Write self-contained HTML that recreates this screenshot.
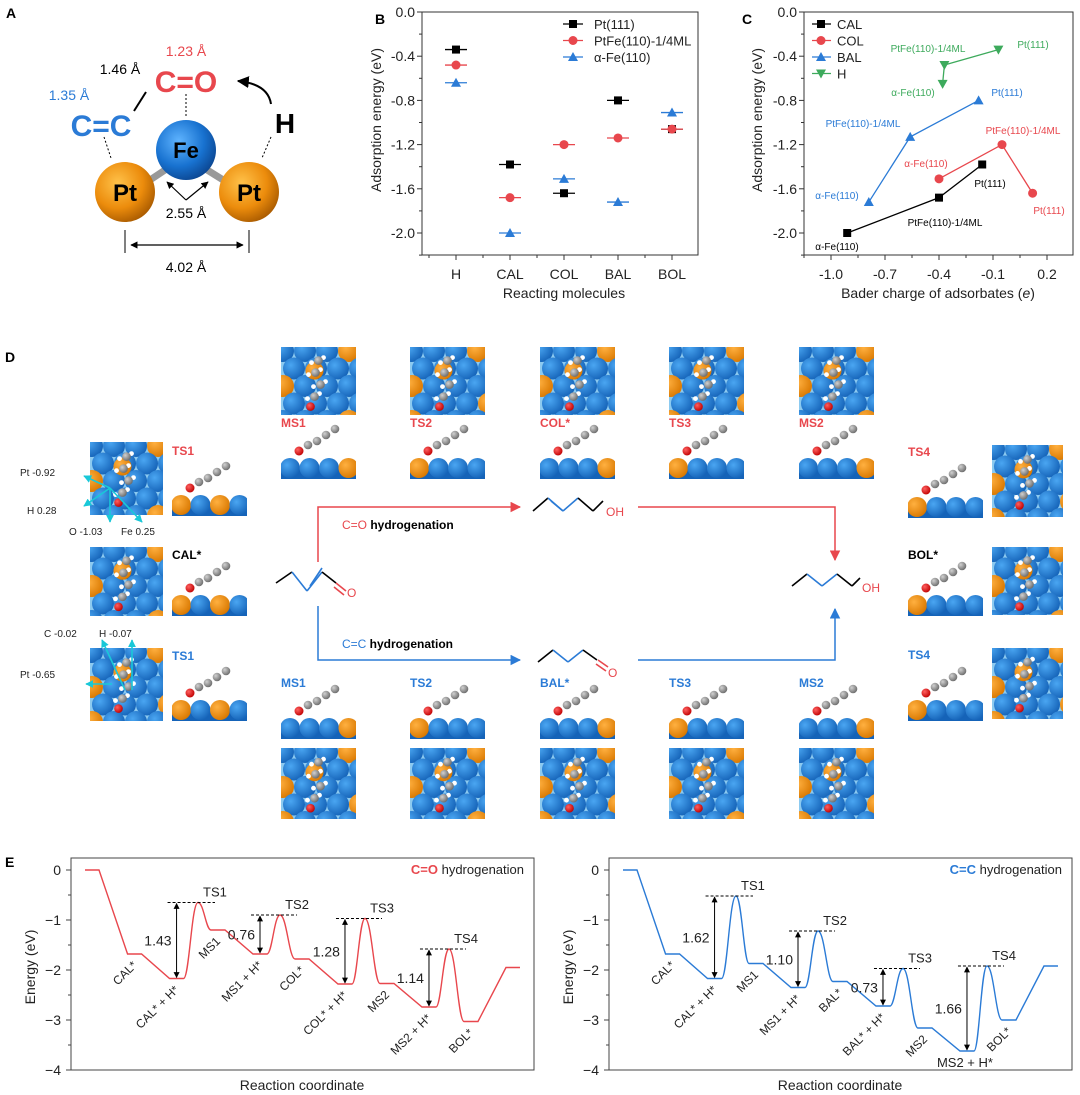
<!DOCTYPE html>
<html><head><meta charset="utf-8"><style>
html,body{margin:0;padding:0;background:#fff;}
svg{display:block;font-family:"Liberation Sans",Arial,sans-serif;}
</style></head><body>
<svg id="fig" xmlns="http://www.w3.org/2000/svg" width="1080" height="1095" viewBox="0 0 1080 1095">
<defs>
<radialGradient id="gPt" cx="0.38" cy="0.35" r="0.7"><stop offset="0" stop-color="#ffc24a"/><stop offset="0.6" stop-color="#ec8c0c"/><stop offset="1" stop-color="#a85a00"/></radialGradient>
<radialGradient id="gFe" cx="0.38" cy="0.35" r="0.7"><stop offset="0" stop-color="#5fb4ff"/><stop offset="0.6" stop-color="#1872d0"/><stop offset="1" stop-color="#0b4590"/></radialGradient>
<radialGradient id="gB" cx="0.35" cy="0.35" r="0.7"><stop offset="0" stop-color="#4aa6f2"/><stop offset="1" stop-color="#1563b8"/></radialGradient>
<radialGradient id="gO" cx="0.35" cy="0.35" r="0.7"><stop offset="0" stop-color="#ffb040"/><stop offset="1" stop-color="#d97800"/></radialGradient>
<radialGradient id="gC" cx="0.35" cy="0.35" r="0.7"><stop offset="0" stop-color="#d0d0d0"/><stop offset="1" stop-color="#6a6a6a"/></radialGradient>
<radialGradient id="gR" cx="0.35" cy="0.35" r="0.7"><stop offset="0" stop-color="#ff6060"/><stop offset="1" stop-color="#c00000"/></radialGradient>
<marker id="ah" viewBox="0 0 10 10" refX="9" refY="5" markerWidth="6" markerHeight="6" orient="auto-start-reverse"><path d="M0,0 L10,5 L0,10 z" fill="#000"/></marker>
<marker id="ahR" viewBox="0 0 10 10" refX="9" refY="5" markerWidth="7" markerHeight="7" orient="auto"><path d="M0,0 L10,5 L0,10 z" fill="#e8474d"/></marker>
<marker id="ahB" viewBox="0 0 10 10" refX="9" refY="5" markerWidth="7" markerHeight="7" orient="auto"><path d="M0,0 L10,5 L0,10 z" fill="#2b7bd6"/></marker>
<marker id="ahC" viewBox="0 0 10 10" refX="9" refY="5" markerWidth="5" markerHeight="5" orient="auto"><path d="M0,0 L10,5 L0,10 z" fill="#19c8d8"/></marker>
</defs>

<!-- Panel A -->
<g>
<text x="6" y="18" font-size="14" font-weight="bold">A</text>
<line x1="168" y1="168" x2="138" y2="188" stroke="#999" stroke-width="7"/>
<line x1="204" y1="168" x2="236" y2="188" stroke="#999" stroke-width="7"/>
<circle cx="125" cy="192" r="30" fill="url(#gPt)"/>
<circle cx="249" cy="192" r="30" fill="url(#gPt)"/>
<circle cx="186" cy="150" r="30" fill="url(#gFe)"/>
<text x="125" y="201" font-size="24" font-weight="bold" text-anchor="middle">Pt</text>
<text x="249" y="201" font-size="24" font-weight="bold" text-anchor="middle">Pt</text>
<text x="186" y="158" font-size="22" font-weight="bold" text-anchor="middle">Fe</text>
<text x="186" y="56" font-size="14" fill="#e8474d" text-anchor="middle">1.23 Å</text>
<text x="120" y="74" font-size="14" text-anchor="middle">1.46 Å</text>
<text x="69" y="100" font-size="14" fill="#2b7bd6" text-anchor="middle">1.35 Å</text>
<text x="186" y="92" font-size="30" font-weight="bold" fill="#e8474d" text-anchor="middle">C=O</text>
<text x="101" y="136" font-size="30" font-weight="bold" fill="#2b7bd6" text-anchor="middle">C=C</text>
<text x="285" y="133" font-size="28" font-weight="bold" text-anchor="middle">H</text>
<line x1="146" y1="92" x2="134" y2="111" stroke="#000" stroke-width="2"/>
<line x1="104" y1="137" x2="111" y2="158" stroke="#000" stroke-dasharray="2,2"/>
<line x1="186" y1="94" x2="186" y2="117" stroke="#000" stroke-dasharray="2,2"/>
<line x1="271" y1="137" x2="262" y2="158" stroke="#000" stroke-dasharray="2,2"/>
<path d="M271,104 Q268,84 238,81" fill="none" stroke="#000" stroke-width="2" marker-end="url(#ah)"/>
<line x1="186" y1="200" x2="167" y2="182" stroke="#000" stroke-width="1.2" marker-end="url(#ah)"/>
<line x1="186" y1="200" x2="208" y2="182" stroke="#000" stroke-width="1.2" marker-end="url(#ah)"/>
<text x="186" y="218" font-size="14" text-anchor="middle">2.55 Å</text>
<line x1="125" y1="230" x2="125" y2="253" stroke="#000"/>
<line x1="249" y1="230" x2="249" y2="253" stroke="#000"/>
<line x1="131" y1="245" x2="243" y2="245" stroke="#000" stroke-width="1.2" marker-start="url(#ah)" marker-end="url(#ah)"/>
<text x="186" y="272" font-size="14" text-anchor="middle">4.02 Å</text>
</g>

<g id="panelB"></g>
<g id="panelC"></g>
<g id="panelD"></g>
<g id="panelE"></g>
</svg>
<script>
const NS='http://www.w3.org/2000/svg';
function mk(parent,tag,attrs,text){const e=document.createElementNS(NS,tag);for(const k in attrs)e.setAttribute(k,attrs[k]);if(text!==undefined)e.textContent=text;parent.appendChild(e);return e;}
const RED='#e8474d',BLUE='#2b7bd6',GREEN='#3daa5c';

// ---------- Panel B data ----------
const bCategories=['H','CAL','COL','BAL','BOL'];
const bPt111=[-0.34,-1.38,-1.64,-0.80,-1.06];
const bPtFe=[-0.48,-1.68,-1.20,-1.14,-1.06];
const bFe110=[-0.64,-2.00,-1.51,-1.72,-0.91];
const bSeriesNames=['Pt(111)','PtFe(110)-1/4ML','α-Fe(110)'];
const bYTicks=[0,-0.4,-0.8,-1.2,-1.6,-2.0];
const bYTickLabels=['0.0','-0.4','-0.8','-1.2','-1.6','-2.0'];

// ---------- Panel C data ----------
const cCAL_x=[-0.91,-0.40,-0.16], cCAL_y=[-2.00,-1.68,-1.38];
const cCOL_x=[-0.40,-0.05,0.12], cCOL_y=[-1.51,-1.20,-1.64];
const cBAL_x=[-0.79,-0.56,-0.18], cBAL_y=[-1.72,-1.13,-0.80];
const cH_x=[-0.38,-0.37,-0.07], cH_y=[-0.65,-0.48,-0.34];
const cXTicks=[-1.0,-0.7,-0.4,-0.1,0.2];
const cXTickLabels=['-1.0','-0.7','-0.4','-0.1','0.2'];
const cSeriesNames=['CAL','COL','BAL','H'];

// ---------- Panel E data ----------
const eStateNames=['','CAL*','CAL* + H*','TS1','MS1','MS1 + H*','TS2','COL*','COL* + H*','TS3','MS2','MS2 + H*','TS4','BOL*',''];
const eStateNamesCC=['','CAL*','CAL* + H*','TS1','MS1','MS1 + H*','TS2','BAL*','BAL* + H*','TS3','MS2','MS2 + H*','TS4','BOL*',''];
const eStateTypes=['p','p','p','t','p','p','t','p','p','t','p','p','t','p','p'];
const eStatePos=[1.5,4.54,7.54,9.07,10.5,13.5,14.93,16.5,19.57,21,22.57,25.57,27,28.57,31.57];
const eEnergyCO=[0,-1.68,-2.17,-0.65,-1.20,-1.68,-0.90,-1.78,-2.28,-0.97,-2.27,-2.74,-1.58,-3.03,-1.95];
const eEnergyCC=[0,-1.68,-2.17,-0.52,-1.87,-2.35,-1.22,-2.23,-2.72,-1.97,-3.16,-3.62,-1.92,-3.00,-1.92];
const eBarrierCO=['1.43','0.76','1.28','1.14'];
const eBarrierCC=['1.62','1.10','0.73','1.66'];
const eYTicks=[0,-1,-2,-3,-4];

function marker(g,type,cx,cy,color,name){
  let m;
  if(type==='s') m=mk(g,'rect',{x:cx-4,y:cy-4,width:8,height:8,fill:color});
  else if(type==='c') m=mk(g,'circle',{cx:cx,cy:cy,r:4.5,fill:color});
  else if(type==='t') m=mk(g,'path',{d:`M${cx},${cy-5} L${cx+5},${cy+4} L${cx-5},${cy+4}Z`,fill:color});
  else m=mk(g,'path',{d:`M${cx},${cy+5} L${cx+5},${cy-4} L${cx-5},${cy-4}Z`,fill:color});
  
  
  return m;
}

// ===== Panel B =====
(function(){
  const g=document.getElementById('panelB');
  const L=422,R=698,T=12,B=255;
  const xS=i=>456+i*54;
  const yS=v=>T+(-v)*110.5;
  const lab=mk(g,'text',{x:375,y:24,'font-size':14,'font-weight':'bold'},'B');
  
  const box=mk(g,'rect',{x:L,y:T,width:R-L,height:B-T,fill:'none',stroke:'#333','stroke-width':1});
  
  for(let v=0;v>=-2.21;v-=0.2){
    const y=yS(v);const major=Math.abs(Math.round(v*10))%4===0;
    const t=mk(g,'line',{x1:L,x2:L-(major?5:3),y1:y,y2:y,stroke:'#333'});
    
  }
  bYTicks.forEach((v,i)=>{const t=mk(g,'text',{x:L-7,y:yS(v)+5,'font-size':14,'text-anchor':'end',fill:'#222'},bYTickLabels[i]);
    });
  for(let k=0;k<=10;k++){const x=xS(-0.5+k*0.5);if(x<L||x>R)continue;const major=k%2===1;
    const t=mk(g,'line',{x1:x,x2:x,y1:B,y2:B+(major?5:3),stroke:'#333'});
    }
  bCategories.forEach((c,i)=>{const t=mk(g,'text',{x:xS(i),y:279,'font-size':14,'text-anchor':'middle',fill:'#222'},c);
    });
  const xt=mk(g,'text',{x:564,y:298,'font-size':14,'text-anchor':'middle',fill:'#222'},'Reacting molecules');
  
  const yt=mk(g,'text',{x:0,y:0,'font-size':14,'text-anchor':'middle',fill:'#222',transform:'translate(381,120) rotate(-90)'},'Adsorption energy (eV)');
  
  const series=[[bPt111,'#000','s'],[bPtFe,RED,'c'],[bFe110,BLUE,'t']];
  series.forEach((s,si)=>{
    s[0].forEach((v,i)=>{const x=xS(i),y=yS(v);
      const l=mk(g,'line',{x1:x-11,x2:x+11,y1:y,y2:y,stroke:s[1],'stroke-width':1.3});
      
      marker(g,s[2],x,y,s[1],'marker-'+bCategories[i].toLowerCase());});
    const ly=24+si*16.5;
    const ll=mk(g,'line',{x1:563,x2:583,y1:ly,y2:ly,stroke:s[1],'stroke-width':1.3});
    
    marker(g,s[2],573,ly,s[1],'legend-marker');
    const lt=mk(g,'text',{x:594,y:ly+5,'font-size':13,fill:'#222'},bSeriesNames[si]);
    
  });
})();

// ===== Panel C =====
(function(){
  const g=document.getElementById('panelC');
  const L=804,R=1073,T=12,B=255;
  const xS=v=>831+(v+1)*180;
  const yS=v=>T+(-v)*110.5;
  const lab=mk(g,'text',{x:742,y:24,'font-size':14,'font-weight':'bold'},'C');
  
  const box=mk(g,'rect',{x:L,y:T,width:R-L,height:B-T,fill:'none',stroke:'#333'});
  
  for(let v=0;v>=-2.21;v-=0.2){const y=yS(v);const major=Math.abs(Math.round(v*10))%4===0;
    const t=mk(g,'line',{x1:L,x2:L-(major?5:3),y1:y,y2:y,stroke:'#333'});
    }
  bYTicks.forEach((v,i)=>{const t=mk(g,'text',{x:L-7,y:yS(v)+5,'font-size':14,'text-anchor':'end',fill:'#222'},bYTickLabels[i]);
    });
  for(let v=-1.15;v<=0.35;v+=0.15){const x=xS(v);if(x<L-0.5||x>R+0.5)continue;const major=Math.abs(Math.round((v+1)*100))%30===0;
    const t=mk(g,'line',{x1:x,x2:x,y1:B,y2:B+(major?5:3),stroke:'#333'});
    }
  cXTicks.forEach((v,i)=>{const t=mk(g,'text',{x:xS(v),y:279,'font-size':14,'text-anchor':'middle',fill:'#222'},cXTickLabels[i]);
    });
  const xt=mk(g,'text',{x:938,y:298,'font-size':14,'text-anchor':'middle',fill:'#222'});
  
  xt.appendChild(document.createTextNode('Bader charge of adsorbates ('));
  const it=mk(xt,'tspan',{'font-style':'italic'},'e');
  xt.appendChild(document.createTextNode(')'));
  const yt=mk(g,'text',{x:0,y:0,'font-size':14,'text-anchor':'middle',fill:'#222',transform:'translate(762,120) rotate(-90)'},'Adsorption energy (eV)');
  
  const series=[[cCAL_x,cCAL_y,'#000','s'],[cCOL_x,cCOL_y,RED,'c'],[cBAL_x,cBAL_y,BLUE,'t'],[cH_x,cH_y,GREEN,'v']];
  series.forEach((s,si)=>{
    const pts=s[0].map((x,i)=>xS(x)+','+yS(s[1][i])).join(' ');
    const pl=mk(g,'polyline',{points:pts,fill:'none',stroke:s[2],'stroke-width':1.3});
    
    s[0].forEach((x,i)=>marker(g,s[3],xS(x),yS(s[1][i]),s[2],'point-'+cSeriesNames[si].toLowerCase()));
    const ly=24+si*16.5;
    const ll=mk(g,'line',{x1:812,x2:831,y1:ly,y2:ly,stroke:s[2],'stroke-width':1.3});
    
    marker(g,s[3],821,ly,s[2],'legend-marker');
    const lt=mk(g,'text',{x:837,y:ly+5,'font-size':13,fill:'#222'},cSeriesNames[si]);
    
  });
  const annots=[[928,52,'PtFe(110)-1/4ML',GREEN],[1033,48,'Pt(111)',GREEN],[913,96,'α-Fe(110)',GREEN],
    [1007,96,'Pt(111)',BLUE],[863,127,'PtFe(110)-1/4ML',BLUE],[837,199,'α-Fe(110)',BLUE],
    [1023,134,'PtFe(110)-1/4ML',RED],[926,167,'α-Fe(110)',RED],[1049,214,'Pt(111)',RED],
    [990,187,'Pt(111)','#000'],[945,226,'PtFe(110)-1/4ML','#000'],[837,250,'α-Fe(110)','#000']];
  annots.forEach(a=>{const t=mk(g,'text',{x:a[0],y:a[1],'font-size':10,'text-anchor':'middle',fill:a[3]},a[2]);
    });
})();

// ===== Panel D =====
(function(){
  const g=document.getElementById('panelD');
  const lab=mk(g,'text',{x:5,y:362,'font-size':14,'font-weight':'bold'},'D');
  
  function topView(x,y,w,h,seed,name){
    const gg=mk(g,'g',{});
    const cp='cp'+Math.round(x)+'_'+Math.round(y);
    const c=mk(gg,'clipPath',{id:cp});mk(c,'rect',{x:x,y:y,width:w,height:h});
    const inner=mk(gg,'g',{'clip-path':`url(#${cp})`});
    mk(inner,'rect',{x:x,y:y,width:w,height:h,fill:'#8ccaf0'});
    const r=11;
    const flip=seed%2===1;
    for(let row=0;row<5;row++){for(let col=0;col<5;col++){
      const cx=x+2+col*22+(row%2?11:0),cy=y+4+row*17.5;
      let orange=(row===0&&col===3)||(row===2&&col===0)||(row===4&&col===3);
      if(flip) orange=(row===0&&col===3)||(row===2&&col===0)||(row===4&&col===0)||(row===3&&col===3);
      mk(inner,'circle',{cx:cx,cy:cy,r:r,fill:orange?'url(#gO)':'url(#gB)'});
    }}
    const mx=x+w*0.5,my=y+h*0.2;
    mk(inner,'circle',{cx:mx-4,cy:my+10,r:9,fill:'url(#gO)'});
    [[0,0],[-3,12],[2,24],[-4,36]].forEach((p,i)=>{
      mk(inner,'circle',{cx:mx+p[0]+5,cy:my+p[1]-3,r:2.4,fill:'#fff'});
      mk(inner,'circle',{cx:mx+p[0]-7,cy:my+p[1]+2,r:2.4,fill:'#fff'});
      mk(inner,'circle',{cx:mx+p[0],cy:my+p[1],r:4.3,fill:'url(#gC)'});});
    mk(inner,'circle',{cx:mx-8,cy:my+46,r:4.3,fill:'url(#gR)'});
  }
  function sideView(x,y,w,name,flip){
    const gg=mk(g,'g',{});
    const cp='cs'+Math.round(x)+'_'+Math.round(y);
    const c=mk(gg,'clipPath',{id:cp});mk(c,'rect',{x:x,y:y-40,width:w,height:62});
    const inner=mk(gg,'g',{'clip-path':`url(#${cp})`});
    mk(inner,'rect',{x:x,y:y+12,width:w,height:10,fill:'#1563b8'});
    for(let i=0;i<4;i++){mk(inner,'circle',{cx:x+9+i*19.5,cy:y+11,r:10,fill:(i===(flip?0:3)||i===2&&flip===2)?'url(#gO)':'url(#gB)'});}
    const oy=y-6, ox=x+18;
    mk(inner,'circle',{cx:ox,cy:oy,r:4.5,fill:'url(#gR)'});
    [[9,-6],[18,-10],[27,-16],[36,-22]].forEach((p,i)=>{
      mk(inner,'circle',{cx:ox+p[0]+3,cy:oy+p[1]-6,r:2.4,fill:'#fff'});
      mk(inner,'circle',{cx:ox+p[0],cy:oy+p[1],r:4.3,fill:'url(#gC)'});});
  }
  function label(x,y,t,color,name,bold){const e=mk(g,'text',{x:x,y:y,'font-size':12,'font-weight':bold===false?'normal':'bold',fill:color},t);
    return e;}
  const colsX=[281,410,540,669,799];
  const topNames=['MS1','TS2','COL*','TS3','MS2'];
  const botNames=['MS1','TS2','BAL*','TS3','MS2'];
  colsX.forEach((x,i)=>{
    topView(x,347,75,68,i,'top-view-co-'+i);
    label(x,427,topNames[i],RED,'state-label-co');
    sideView(x,457,75,'side-view-co-'+i,i%2);
    label(x,687,botNames[i],BLUE,'state-label-cc');
    sideView(x,717,75,'side-view-cc-'+i,i%2?1:0);
    topView(x,748,75,71,i+3,'top-view-cc-'+i);
  });
  topView(90,442,73,73,2,'ts1-co-top');label(172,455,'TS1',RED,'ts1-co-label');sideView(172,494,75,'ts1-co-side',2);
  topView(90,547,73,69,4,'cal-top');label(172,559,'CAL*','#000','cal-label');sideView(172,594,75,'cal-side',2);
  topView(90,648,73,73,1,'ts1-cc-top');label(172,660,'TS1',BLUE,'ts1-cc-label');sideView(172,699,75,'ts1-cc-side',2);
  label(908,456,'TS4',RED,'ts4-co-label');sideView(908,496,75,'ts4-co-side',1);topView(992,445,71,72,5,'ts4-co-top');
  label(908,559,'BOL*','#000','bol-label');sideView(908,594,75,'bol-side',1);topView(992,547,71,68,6,'bol-top');
  label(908,659,'TS4',BLUE,'ts4-cc-label');sideView(908,699,75,'ts4-cc-side',1);topView(992,648,71,71,3,'ts4-cc-top');
  [[38,476,'Pt -0.92'],[45,514,'H 0.28'],[87,535,'O -1.03'],[139,535,'Fe 0.25'],[62,637,'C -0.02'],[117,637,'H -0.07'],[38,678,'Pt -0.65']].forEach(a=>{
    const e=mk(g,'text',{x:a[0]-18,y:a[1],'font-size':10,fill:'#222'},a[2]);});
  [[110,488,84,476],[110,488,84,506],[110,488,110,522],[110,488,142,522],[125,690,102,640],[132,690,132,640],[112,684,86,684]].forEach(a=>{
    const e=mk(g,'line',{x1:a[0],y1:a[1],x2:a[2],y2:a[3],stroke:'#19c8d8','stroke-width':1.6,'marker-end':'url(#ahC)'});
    });
  const p1=mk(g,'polyline',{points:'318,562 318,507 520,507',fill:'none',stroke:RED,'stroke-width':1.5,'marker-end':'url(#ahR)'});
  
  const p2=mk(g,'polyline',{points:'638,507 835,507 835,560',fill:'none',stroke:RED,'stroke-width':1.5,'marker-end':'url(#ahR)'});
  
  const p3=mk(g,'polyline',{points:'318,606 318,660 520,660',fill:'none',stroke:BLUE,'stroke-width':1.5,'marker-end':'url(#ahB)'});
  
  const p4=mk(g,'polyline',{points:'638,660 835,660 835,609',fill:'none',stroke:BLUE,'stroke-width':1.5,'marker-end':'url(#ahB)'});
  
  const t1=mk(g,'text',{x:342,y:529,'font-size':12,'font-weight':'bold'});
  const t1a=mk(t1,'tspan',{fill:RED,'font-weight':'normal'},'C=O');
  t1.appendChild(document.createTextNode(' hydrogenation'));
  const t2=mk(g,'text',{x:342,y:648,'font-size':12,'font-weight':'bold'});
  const t2a=mk(t2,'tspan',{fill:BLUE,'font-weight':'normal'},'C=C');
  t2.appendChild(document.createTextNode(' hydrogenation'));
  function skel(pts,colors,name){const gg=mk(g,'g',{});
    for(let i=0;i<pts.length-1;i++)mk(gg,'line',{x1:pts[i][0],y1:pts[i][1],x2:pts[i+1][0],y2:pts[i+1][1],stroke:colors[i],'stroke-width':1.6});return gg;}
  skel([[276,583],[292,572],[307,591],[322,572],[336,583]],['#000',BLUE,BLUE,'#000'],'cal-molecule');
  mk(g,'line',{x1:310,y1:586,x2:322,y2:568,stroke:BLUE,'stroke-width':1.6});
  mk(g,'line',{x1:336,y1:583,x2:346,y2:591,stroke:RED,'stroke-width':1.6});
  mk(g,'line',{x1:334,y1:587,x2:344,y2:595,stroke:RED,'stroke-width':1.6});
  let e=mk(g,'text',{x:347,y:597,'font-size':12,fill:RED},'O');
  skel([[533,511],[548,498],[563,511],[578,498],[593,511],[603,501]],['#000',BLUE,BLUE,'#000','#000',RED],'col-molecule');
  mk(g,'line',{x1:551,y1:501,x2:563,y2:511,stroke:BLUE,'stroke-width':1.6});
  e=mk(g,'text',{x:606,y:516,'font-size':12,fill:RED},'OH');
  skel([[538,662],[553,650],[568,662],[583,650],[597,660]],['#000',BLUE,BLUE,'#000'],'bal-molecule');
  mk(g,'line',{x1:598,y1:660,x2:608,y2:667,stroke:RED,'stroke-width':1.6});
  mk(g,'line',{x1:596,y1:664,x2:606,y2:671,stroke:RED,'stroke-width':1.6});
  e=mk(g,'text',{x:608,y:677,'font-size':12,fill:RED},'O');
  skel([[792,586],[807,574],[822,586],[837,574],[852,586],[860,578]],['#000',BLUE,BLUE,'#000','#000',RED],'bol-molecule');
  e=mk(g,'text',{x:862,y:592,'font-size':12,fill:RED},'OH');
})();

// ===== Panel E =====
function energyChart(L,energies,names,barriers,color,legendWord,tag,flatIdx){
  const g=document.getElementById('panelE');
  const R=L+463,T=858,B=1070;
  const xS=u=>L+u*14;
  const yS=v=>870-v*50;
  const box=mk(g,'rect',{x:L,y:T,width:R-L,height:B-T,fill:'none',stroke:'#444'});
  
  for(let v=0;v>=-4;v-=0.5){const major=Number.isInteger(v);
    const t=mk(g,'line',{x1:L,x2:L-(major?5:3),y1:yS(v),y2:yS(v),stroke:'#444'});
    }
  eYTicks.forEach(v=>{const t=mk(g,'text',{x:L-10,y:yS(v)+5,'font-size':14,'text-anchor':'end',fill:'#222'},v===0?'0':'−'+(-v));
    });
  const yt=mk(g,'text',{x:0,y:0,'font-size':14,'text-anchor':'middle',fill:'#222',transform:`translate(${L-36},967) rotate(-90)`},'Energy (eV)');
  
  const xt=mk(g,'text',{x:L+231,y:1090,'font-size':14,'text-anchor':'middle',fill:'#222'},'Reaction coordinate');
  
  const lg=mk(g,'text',{x:R-10,y:874,'font-size':13,'text-anchor':'end',fill:'#222'});
  
  const lgs=mk(lg,'tspan',{fill:color,'font-weight':'bold'},legendWord);
  lg.appendChild(document.createTextNode(' hydrogenation'));
  let d='';let prevEnd=null;
  for(let i=0;i<energies.length;i++){
    const x=eStatePos[i],y=yS(energies[i]);
    if(eStateTypes[i]==='p'){
      const a=xS(x-0.5),b=xS(x+0.5);
      if(prevEnd===null)d+=`M${a},${y}`;
      else if(prevEnd.ts){const p=prevEnd;d+=` C${p.x+(a-p.x)*0.45},${p.y} ${a-(a-p.x)*0.4},${y} ${a},${y}`;}
      else d+=` L${a},${y}`;
      d+=` L${b},${y}`;prevEnd={x:b,y:y};
    }else{
      const px=xS(x),p=prevEnd;
      d+=` C${p.x+(px-p.x)*0.4},${p.y} ${px-(px-p.x)*0.45},${y} ${px},${y}`;
      prevEnd={x:px,y:y,ts:true};
    }
  }
  const path=mk(g,'path',{d:d,fill:'none',stroke:color,'stroke-width':1.4});
  
  let bi=0;
  for(let i=0;i<energies.length;i++){
    const cx=xS(eStatePos[i]),y=yS(energies[i]);
    if(eStateTypes[i]==='t'){
      const pe=energies[i-1],px0=xS(eStatePos[i-1]-0.5);
      const dl=mk(g,'line',{x1:px0-2,x2:cx+17,y1:y,y2:y,stroke:'#000','stroke-dasharray':'3,2'});
      
      const ar=mk(g,'line',{x1:px0+7,x2:px0+7,y1:yS(pe)-1,y2:y+1,stroke:'#000','marker-start':'url(#ah)','marker-end':'url(#ah)'});
      
      const bt=mk(g,'text',{x:px0+2,y:(yS(pe)+y)/2+5,'font-size':14,'text-anchor':'end',fill:'#222'},barriers[bi++]);
      
      const tl=mk(g,'text',{x:cx+17,y:y-6,'font-size':13,'text-anchor':'middle',fill:'#222'},names[i]);
      
    }else if(names[i]){
      let t;
      if(i===flatIdx) t=mk(g,'text',{x:cx-2,y:y+16,'font-size':13,'text-anchor':'middle',fill:'#222'},names[i]);
      else t=mk(g,'text',{x:cx+3,y:y+12,'font-size':12,'text-anchor':'end',fill:'#222',transform:`rotate(-45 ${cx+3} ${y+12})`},names[i]);
      
    }
  }
}
(function(){
  const g=document.getElementById('panelE');
  const lab=mk(g,'text',{x:5,y:867,'font-size':14,'font-weight':'bold'},'E');
  
  energyChart(71,eEnergyCO,eStateNames,eBarrierCO,RED,'C=O','co',-1);
  energyChart(609,eEnergyCC,eStateNamesCC,eBarrierCC,BLUE,'C=C','cc',11);
})();
</script>
</body></html>
